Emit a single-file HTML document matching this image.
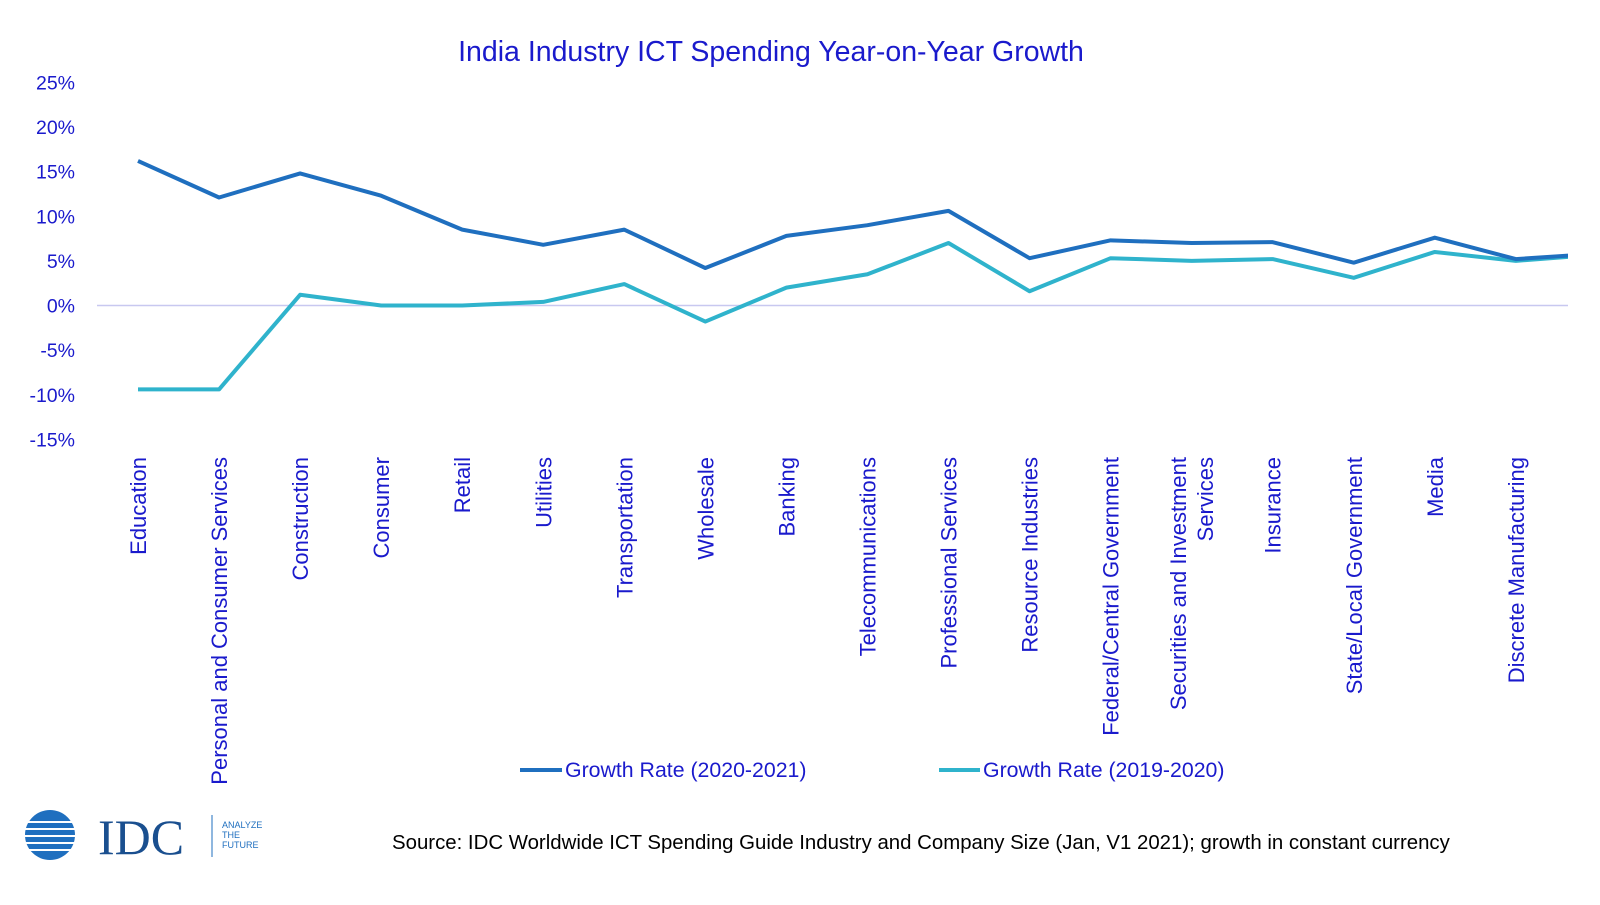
<!DOCTYPE html>
<html><head><meta charset="utf-8">
<style>
body{margin:0;background:#fff;width:1600px;height:900px;overflow:hidden;font-family:"Liberation Sans",sans-serif}
svg text{font-family:"Liberation Sans",sans-serif;fill:#1a1acc}
</style></head>
<body>
<svg id="chart" width="1600" height="900" viewBox="0 0 1600 900">
<defs><clipPath id="pc"><rect x="0" y="0" width="1568" height="900"/></clipPath></defs>
<text x="771" y="61" text-anchor="middle" font-size="28.5">India Industry ICT Spending Year-on-Year Growth</text>
<g id="yaxis"></g>
<g id="xaxis"></g>
<g id="series" clip-path="url(#pc)"></g>
<g>
<line x1="520" y1="770" x2="562" y2="770" stroke="#1f6fbf" stroke-width="4"/>
<text x="565" y="777" font-size="21.3">Growth Rate (2020-2021)</text>
<line x1="939" y1="770" x2="980" y2="770" stroke="#2fb3cc" stroke-width="4"/>
<text x="983" y="777" font-size="21.3">Growth Rate (2019-2020)</text>
</g>
<g>
<circle cx="50" cy="835" r="25" fill="#1f6fbf"/>
<g stroke="#fff" stroke-width="2"><line x1="20" y1="822" x2="80" y2="822"/><line x1="20" y1="829" x2="80" y2="829"/><line x1="20" y1="836" x2="80" y2="836"/><line x1="20" y1="843" x2="80" y2="843"/><line x1="20" y1="850" x2="80" y2="850"/></g>
<text x="98" y="854" font-size="50" style="font-family:'Liberation Serif',serif;fill:#1a4f8f">IDC</text>
<line x1="212" y1="815" x2="212" y2="857" stroke="#1f6fbf" stroke-width="1"/>
<text x="222" y="828" font-size="9" style="fill:#1f6fbf">ANALYZE</text>
<text x="222" y="838" font-size="9" style="fill:#1f6fbf">THE</text>
<text x="222" y="848" font-size="9" style="fill:#1f6fbf">FUTURE</text>
</g>
<text x="392" y="849" font-size="20.4" style="fill:#000">Source: IDC Worldwide ICT Spending Guide Industry and Company Size (Jan, V1 2021); growth in constant currency</text>
</svg>
<script>
const categories=["Education","Personal and Consumer Services","Construction","Consumer","Retail","Utilities","Transportation","Wholesale","Banking","Telecommunications","Professional Services","Resource Industries","Federal/Central Government","Securities and Investment|Services","Insurance","State/Local Government","Media","Discrete Manufacturing",""];
const growth2021=[16.2,12.1,14.8,12.3,8.5,6.8,8.5,4.2,7.8,9.0,10.6,5.3,7.3,7.0,7.1,4.8,7.6,5.2,5.8];
const growth2020=[-9.4,-9.4,1.2,0,0,0.4,2.4,-1.8,2.0,3.5,7.0,1.6,5.3,5.0,5.2,3.1,6.0,5.0,5.7];
const yTicks=[25,20,15,10,5,0,-5,-10,-15];
const NS="http://www.w3.org/2000/svg";
const y=v=>305.5-v*8.925;
const x=i=>138+i*81.05;
const ya=document.getElementById('yaxis'),xa=document.getElementById('xaxis'),sg=document.getElementById('series');
yTicks.forEach(t=>{const el=document.createElementNS(NS,'text');


el.setAttribute('x',75);el.setAttribute('y',y(t)+7);el.setAttribute('text-anchor','end');el.setAttribute('font-size','19.5');el.textContent=t+'%';ya.appendChild(el);});
const zl=document.createElementNS(NS,'line');


zl.setAttribute('x1',97);zl.setAttribute('x2',1568);zl.setAttribute('y1',y(0));zl.setAttribute('y2',y(0));zl.setAttribute('stroke','#c8c8f0');zl.setAttribute('stroke-width','1.5');ya.appendChild(zl);
categories.forEach((c,i)=>{if(!c)return;const lines=c.split('|');lines.forEach((ln,j)=>{const cx=x(i)+(lines.length>1?(j-0.5)*27:0)+8;
const el=document.createElementNS(NS,'text');


el.setAttribute('transform',`translate(${cx},457) rotate(-90)`);el.setAttribute('text-anchor','end');el.setAttribute('font-size','22');el.textContent=ln;xa.appendChild(el);});});
function drawLine(vals,color,name){const p=document.createElementNS(NS,'polyline');


p.setAttribute('points',vals.map((v,i)=>x(i)+','+y(v)).join(' '));p.setAttribute('fill','none');p.setAttribute('stroke',color);p.setAttribute('stroke-width','4');p.setAttribute('stroke-linejoin','round');sg.appendChild(p);}
drawLine(growth2020,'#2fb3cc','line-2019-2020');
drawLine(growth2021,'#1f6fbf','line-2020-2021');
</script>
</body></html>
